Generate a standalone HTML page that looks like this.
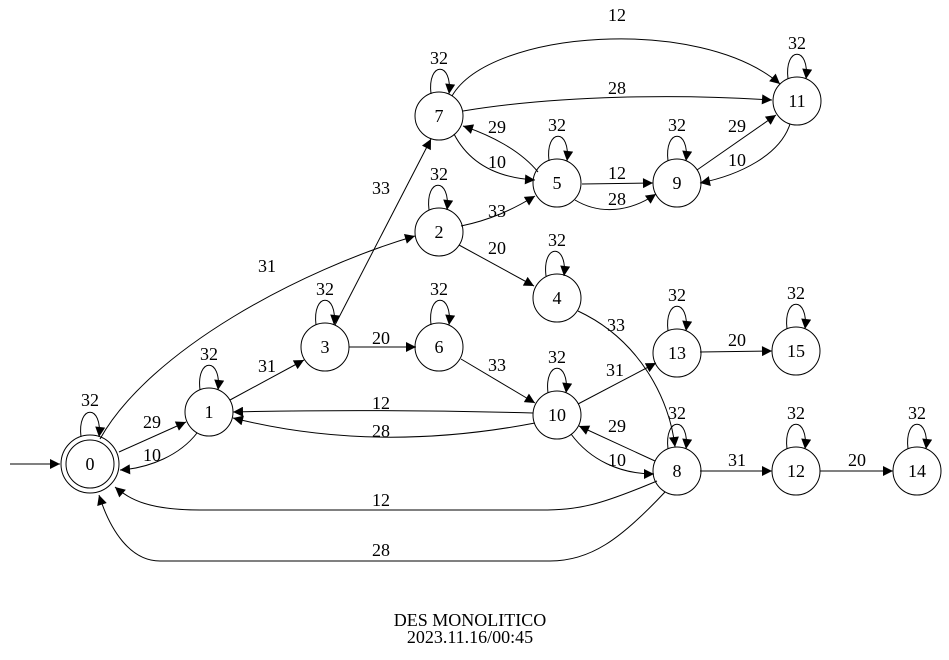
<!DOCTYPE html>
<html><head><meta charset="utf-8"><style>
html,body{margin:0;padding:0;background:#fff;}
svg{display:block;font-family:"Liberation Serif",serif;}
</style></head><body>
<svg width="949" height="660" viewBox="0 0 949 660" xmlns="http://www.w3.org/2000/svg">
<defs><marker id="a" viewBox="0 0 10 10" refX="10" refY="5" markerWidth="13" markerHeight="10" markerUnits="userSpaceOnUse" orient="auto"><path d="M0,0 L10,5 L0,10 z" fill="#000"/></marker></defs>
<g fill="none" stroke="#000" stroke-width="1" marker-end="url(#a)">
<path d="M10,464 L60,464"/>
<path d="M119,452 L186,422"/>
<path d="M197,433 C180,455 150,468 120,470"/>
<path d="M100,439 C150,350 300,270 415,236"/>
<path d="M230,400 L304,360"/>
<path d="M335,325 L431,139"/>
<path d="M349,347 L416,347"/>
<path d="M461,359 L535,403"/>
<path d="M461,226 C490,220 512,210 535,196"/>
<path d="M459,245 L534,286"/>
<path d="M454,134 C470,165 500,178 535,180"/>
<path d="M538,172 C520,150 490,135 463,126"/>
<path d="M452,96 C490,30 700,15 780,84"/>
<path d="M463,111 C560,95 680,94 772,100"/>
<path d="M582,184 L653,183"/>
<path d="M575,200 C600,215 630,212 656,194"/>
<path d="M697,170 L776,115"/>
<path d="M790,124 C780,155 740,175 700,183"/>
<path d="M578,311 C640,340 670,400 675,447"/>
<path d="M578,404 L656,363"/>
<path d="M700,352 L772,351"/>
<path d="M533,413 C420,410 320,410 233,412"/>
<path d="M535,423 C420,445 320,440 233,418"/>
<path d="M655,461 L579,426"/>
<path d="M571,434 C590,460 620,474 654,474"/>
<path d="M700,471 L772,471"/>
<path d="M820,471 L893,471"/>
<path d="M657,481 C600,505 580,510 540,510 L200,510 C150,510 130,500 115,487"/>
<path d="M665,492 C620,540 590,561 550,561 L160,561 C130,561 110,530 99,495"/>
</g>
<g fill="none" stroke="#000" marker-end="url(#a)">
<path d="M81,437 C77,404 103,404 99,437"/>
<path d="M200,390 C196,357 222,357 218,390"/>
<path d="M429,210 C425,177 451,177 447,210"/>
<path d="M316,325 C312,292 338,292 334,325"/>
<path d="M546,276 C542,243 568,243 564,276"/>
<path d="M549,161 C545,128 571,128 567,161"/>
<path d="M431,325 C427,292 453,292 449,325"/>
<path d="M431,94 C427,61 453,61 449,94"/>
<path d="M668,449 C664,416 690,416 686,449"/>
<path d="M668,161 C664,128 690,128 686,161"/>
<path d="M548,393 C544,360 570,360 566,393"/>
<path d="M788,79 C784,46 810,46 806,79"/>
<path d="M787,449 C783,416 809,416 805,449"/>
<path d="M668,331 C664,298 690,298 686,331"/>
<path d="M908,449 C904,416 930,416 926,449"/>
<path d="M787,329 C783,296 809,296 805,329"/>
</g>
<g fill="none" stroke="#000">
<circle cx="90" cy="464" r="29"/><circle cx="90" cy="464" r="24"/>
<circle cx="209" cy="412" r="24"/>
<circle cx="439" cy="232" r="24"/>
<circle cx="325" cy="347" r="24"/>
<circle cx="557" cy="298" r="24"/>
<circle cx="557" cy="183" r="24"/>
<circle cx="439" cy="347" r="24"/>
<circle cx="439" cy="116" r="24"/>
<circle cx="677" cy="471" r="24"/>
<circle cx="677" cy="183" r="24"/>
<circle cx="557" cy="415" r="24"/>
<circle cx="797" cy="101" r="24"/>
<circle cx="796" cy="471" r="24"/>
<circle cx="677" cy="353" r="24"/>
<circle cx="917" cy="471" r="24"/>
<circle cx="796" cy="351" r="24"/>
</g>
<g font-size="18" text-anchor="middle" fill="#000">
<text x="90" y="470">0</text><text x="209" y="418">1</text><text x="439" y="238">2</text>
<text x="325" y="353">3</text><text x="557" y="304">4</text><text x="557" y="189">5</text>
<text x="439" y="353">6</text><text x="439" y="122">7</text><text x="677" y="477">8</text>
<text x="677" y="189">9</text><text x="557" y="421">10</text><text x="797" y="107">11</text>
<text x="796" y="477">12</text><text x="677" y="359">13</text><text x="917" y="477">14</text>
<text x="796" y="357">15</text>
<text x="90" y="406">32</text><text x="209" y="360">32</text><text x="439" y="180">32</text>
<text x="325" y="295">32</text><text x="557" y="246">32</text><text x="557" y="131">32</text>
<text x="439" y="295">32</text><text x="439" y="64">32</text><text x="677" y="419">32</text>
<text x="677" y="131">32</text><text x="557" y="363">32</text><text x="797" y="49">32</text>
<text x="796" y="419">32</text><text x="677" y="301">32</text><text x="917" y="419">32</text>
<text x="796" y="299">32</text>
<text x="152" y="428">29</text><text x="152" y="461">10</text><text x="267" y="272">31</text>
<text x="267" y="372">31</text><text x="381" y="194">33</text><text x="381" y="344">20</text>
<text x="497" y="371">33</text><text x="497" y="217">33</text><text x="497" y="254">20</text>
<text x="497" y="168">10</text><text x="497" y="133">29</text><text x="617" y="21">12</text>
<text x="617" y="94">28</text><text x="617" y="179">12</text><text x="617" y="205">28</text>
<text x="737" y="132">29</text><text x="737" y="166">10</text><text x="616" y="331">33</text>
<text x="615" y="376">31</text><text x="737" y="346">20</text><text x="381" y="409">12</text>
<text x="381" y="437">28</text><text x="617" y="432">29</text><text x="617" y="466">10</text>
<text x="737" y="466">31</text><text x="857" y="466">20</text><text x="381" y="506">12</text>
<text x="381" y="556">28</text>
<text x="470" y="626">DES MONOLITICO</text>
<text x="470" y="643">2023.11.16/00:45</text>
</g>
</svg>
</body></html>
